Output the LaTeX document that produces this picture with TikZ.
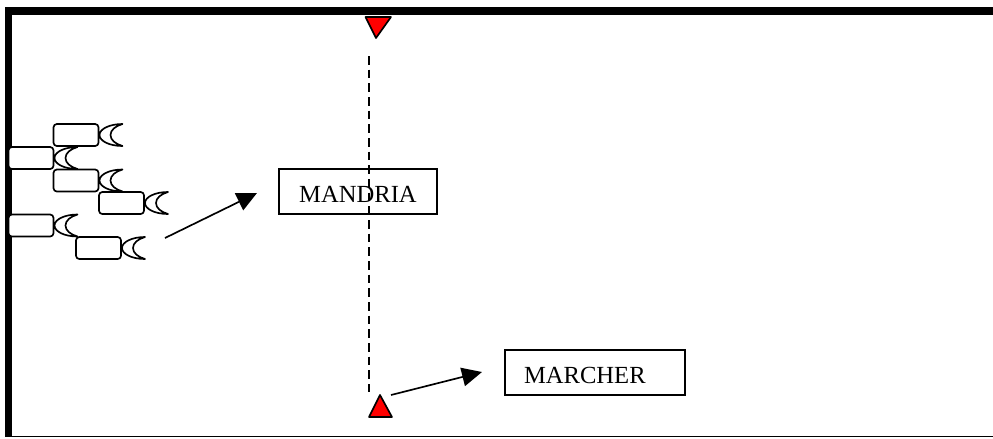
\documentclass[tikz,border=0pt]{standalone}
\usepackage{fontspec}
\setmainfont{Liberation Serif}
\usetikzlibrary{arrows.meta}
\tikzset{
	x=0.03cm, y=-0.03cm,
	cowline/.style={line width=0.05cm, line join=round, fill=white},
	wall/.style={fill=black, draw=none},
	boxlabel/.style={draw, line width=0.045cm, inner ysep=0pt, text height=0.63cm, text depth=0pt, font=\fontsize{21}{25}\selectfont},
	flag/.style={draw, line width=0.05cm, line join=round, fill=red},
	moveto/.style={line width=0.05cm, -{Triangle[length=0.6cm, width=0.56cm]}}
}
\def\cow(#1,#2){\draw[cowline, shift={(#1,#2)}] (0,0) [rounded corners=0.1cm] rectangle (45,22) [sharp corners]
	(69,0) .. controls (56,0) and (46,5) .. (46,11) .. controls (46,17) and (56,22) .. (69,22)
	.. controls (62,20) and (57,16) .. (57,11) .. controls (57,6) and (62,2) .. (69,0) -- cycle;}

\begin{document}
\begin{tikzpicture}
			%%%%% START %%%%%
			\useasboundingbox (0, 0) rectangle (993, 438);
			
			\fill[wall] (5, 7) rectangle (993, 15);
			\fill[wall] (5, 7) rectangle (12, 437);
			\fill[wall] (5, 435.5) rectangle (993, 437);
			
			\cow(53.5, 124);
			\cow(8.5, 147);
			\cow(53.5, 169.5);
			\cow(99, 192);
			\cow(8.5, 214.5);
			\cow(76, 237);
			
			\node[boxlabel, minimum width=4.74cm, minimum height=1.35cm] (mandria) at (358, 191.5) {MANDRIA};
			\node[boxlabel, inner xsep=0.57cm, text width=4.26cm, align=left, minimum height=1.35cm] (marcher) at (595, 372.5) {MARCHER};
			
			\draw[flag] (365.5, 17) -- (391, 17) -- (376, 38) -- cycle;
			\draw[flag] (369, 417) -- (392, 417) -- (380, 395) -- cycle;
			
			\coordinate (topmark) at (369, 56);
			\coordinate (lowmark) at (369, 392);
			\draw[line width=0.045cm, dash pattern=on 0.26cm off 0.15cm] (topmark) -- (lowmark);
			
			\coordinate (herdstart) at (165, 238);
			\coordinate (herdend) at (257, 193);
			\coordinate (walkstart) at (391, 395);
			\coordinate (walkend) at (482, 372);
			\draw[moveto] (herdstart) -- (herdend);
			\draw[moveto] (walkstart) -- (walkend);
			
			%%%%% END %%%%%
\end{tikzpicture}
\end{document}
